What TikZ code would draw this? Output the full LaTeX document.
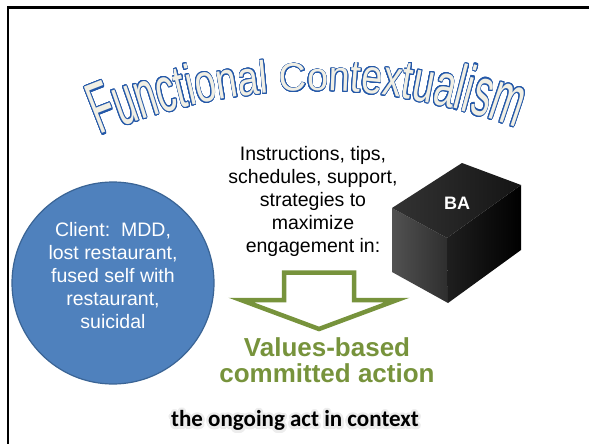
\documentclass[tikz,border=0pt]{standalone}
\usepackage{fontspec}
\setmainfont{Liberation Sans}
\newfontfamily\calfont{Carlito}
\usepackage{contour}
\usetikzlibrary{decorations.text}
\contourlength{0.7pt}
\contournumber{24}
\definecolor{clientblue}{HTML}{4F81BD}
\definecolor{clientedge}{HTML}{3A6495}
\definecolor{actgreen}{HTML}{77933C}
\definecolor{wablue}{HTML}{2458A8}
\definecolor{wacream}{HTML}{F1EFE4}
\newcommand{\wachar}[1]{\contour{wablue}{#1}}

\begin{document}
\begin{tikzpicture}[x=1pt,y=-1pt,
  bodytext/.style={font=\fontsize{19.5}{23}\selectfont,align=center}]
  \useasboundingbox (0,0) rectangle (589,444);
  \draw[line width=2.5pt] (8,444) -- (8,7.5) -- (589,7.5);

  % arched title
  \path[decorate,font=\fontsize{38}{38}\selectfont,
    decoration={text effects along path,
      text={Functional Contextualism}, text align=center,
      text effects/.cd, text along path,
      character count=\i, character total=\n,
      characters={text=wacream, font=\fontsize{38}{38}\selectfont,
        yscale={1+0.9*abs(\i-12.5)/11.5}},
      character command=\wachar}]
    (88,140) .. controls (236,76) and (381,76) .. (528,132);

  % client
  \node[circle,fill=clientblue,draw=clientedge,line width=1.2pt,minimum size=202pt] (client) at (113,283) {};
  \node[bodytext,text=white] (clienttext) at ([yshift=7pt]client.center)
    {Client:\ \ MDD,\\ lost restaurant,\\ fused self with\\ restaurant,\\ suicidal};

  \node[bodytext] (tips) at (313,201.5)
    {Instructions, tips,\\ schedules, support,\\ strategies to\\ maximize\\ engagement in:};

  % BA box
  \coordinate (cl) at (392,208); \coordinate (cb) at (462,163);
  \coordinate (cr) at (521,185); \coordinate (cf) at (447,238);
  \coordinate (clb) at (392,272); \coordinate (cfb) at (448,303);
  \coordinate (crb) at (521,250);
  \shade[left color=black!68,right color=black!82] (cl) -- (cf) -- (cfb) -- (clb) -- cycle;
  \shade[left color=black!88,right color=black] (cf) -- (cr) -- (crb) -- (cfb) -- cycle;
  \shade[left color=black!80,right color=black!92] (cl) -- (cb) -- (cr) -- (cf) -- cycle;
  \node[font=\fontsize{18}{18}\selectfont\bfseries,text=white] (ba) at (457,203) {BA};

  % arrow
  \draw[line width=4.5pt,draw=actgreen,fill=white]
    (284,272.5) -- (354,272.5) -- (354,300) -- (397,300) -- (319,329)
    -- (241,300) -- (284,300) -- cycle;

  \node[font=\fontsize{26}{26}\selectfont\bfseries,text=actgreen,align=center] (values) at (327,360)
    {Values-based\\ committed action};

  \node[font=\calfont\bfseries\fontsize{23}{23}\selectfont] (act) at (295,422)
    {\contourlength{2.5pt}\contour{black!7}{the ongoing act in context}};
\end{tikzpicture}
\end{document}
